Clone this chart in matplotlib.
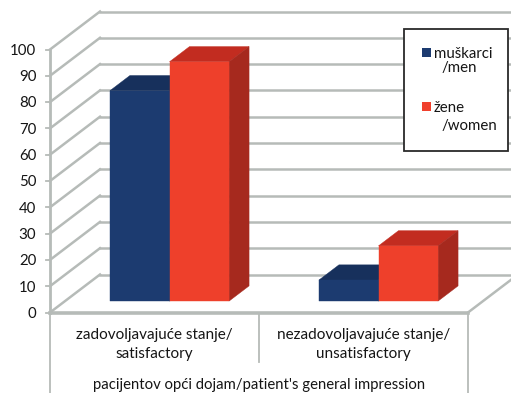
import matplotlib
matplotlib.use("Agg")
import matplotlib.pyplot as plt
from matplotlib.patches import Polygon, Rectangle

categories = ["zadovoljavajuće stanje/\nsatisfactory", "nezadovoljavajuće stanje/\nunsatisfactory"]
axis_title = "pacijentov opći dojam/patient's general impression"
men = [80, 8]
women = [91, 21]
yticks = [0, 10, 20, 30, 40, 50, 60, 70, 80, 90, 100]

W, H = 511, 393
GRID = "#b6bbb8"
TEXT = "#151515"

# oblique depth of the box, in data units per full depth
DX = 50 / 209.0
DY = 38 / 2.63

def proj(x, y, d):
    return x + d * DX, y + d * DY

def bar3d(ax, x0, x1, val, front, top, side, d0=0.3, d1=0.7):
    pts_front = [proj(x0, 0, d0), proj(x1, 0, d0), proj(x1, val, d0), proj(x0, val, d0)]
    pts_top = [proj(x0, val, d0), proj(x1, val, d0), proj(x1, val, d1), proj(x0, val, d1)]
    pts_side = [proj(x1, 0, d0), proj(x1, 0, d1), proj(x1, val, d1), proj(x1, val, d0)]
    for pts, c in ((pts_top, top), (pts_side, side), (pts_front, front)):
        ax.add_patch(Polygon(pts, closed=True, fc=c, ec=c, lw=0.3, clip_on=False, zorder=5))

plt.rcParams["font.family"] = ["Lato", "DejaVu Sans"]
fig = plt.figure(figsize=(W / 100.0, H / 100.0), dpi=100)
ax = fig.add_axes([50 / W, (H - 312.5) / H, 418 / W, 263 / H])
ax.set_xlim(0, 2)
ax.set_ylim(0, 100)
ax.axis("off")

# back wall and left wall gridlines
for v in yticks:
    xs, ys = zip(proj(0, v, 1), proj(2, v, 1))
    ax.plot(xs, ys, color=GRID, lw=1.8, clip_on=False, zorder=1)
    xs, ys = zip(proj(0, v, 0), proj(0, v, 1))
    ax.plot(xs, ys, color=GRID, lw=1.8, clip_on=False, zorder=2)
    ax.plot([-0.02, 0], [v, v], color=GRID, lw=1.3, clip_on=False, zorder=2)
    ax.text(-0.065, v - 0.5, str(v), ha="right", va="center", fontsize=10.8, color=TEXT)

# axis lines and floor edge
ax.plot([0, 0], [0, 100], color=GRID, lw=2, clip_on=False, zorder=3)
ax.plot([0, 2], [0, 0], color=GRID, lw=2.6, clip_on=False, zorder=3)
xs, ys = zip(proj(2, 0, 0), proj(2, 0, 1))
ax.plot(xs, ys, color=GRID, lw=1.8, clip_on=False, zorder=3)

# category separators under the floor
for x, low in ((0, -30.6), (1, -19), (2, -30.6)):
    ax.plot([x, x], [0, low], color=GRID, lw=1.3, clip_on=False, zorder=3)

for i in range(len(categories)):
    bar3d(ax, i + 0.215, i + 0.5, men[i], "#1c3b70", "#17305c", "#17305c")
    bar3d(ax, i + 0.5, i + 0.785, women[i], "#ee402b", "#c22c20", "#a6291e")
    ax.text(i + 0.5, -12, categories[i], ha="center", va="center", fontsize=11,
            color=TEXT, linespacing=1.45)
ax.text(1, -27.5, axis_title, ha="center", va="center", fontsize=10.75, color=TEXT)

# legend box, placed in pixels
def px(x, y):
    return x / W, 1 - y / H

x0, y0 = px(403.5, 151)
fig.add_artist(Rectangle((x0, y0), 104 / W, 122 / H, transform=fig.transFigure,
                         fc="white", ec="#2a2a2a", lw=1.3, zorder=10))
for (sx, sy), c in (((422, 57), "#1c3b70"), ((422, 111), "#f0402d")):
    x, y = px(sx, sy)
    fig.add_artist(Rectangle((x, y), 9 / W, 9 / H, transform=fig.transFigure,
                             fc=c, ec="none", zorder=11))
for tx, ty, s in ((434, 54, "muškarci"), (441, 68, "/men"), (434, 108, "žene"), (441, 126, "/women")):
    x, y = px(tx, ty)
    fig.text(x, y, s, ha="left", va="center", fontsize=10.8, color=TEXT, zorder=12)

fig.savefig("out.png", dpi=100)
